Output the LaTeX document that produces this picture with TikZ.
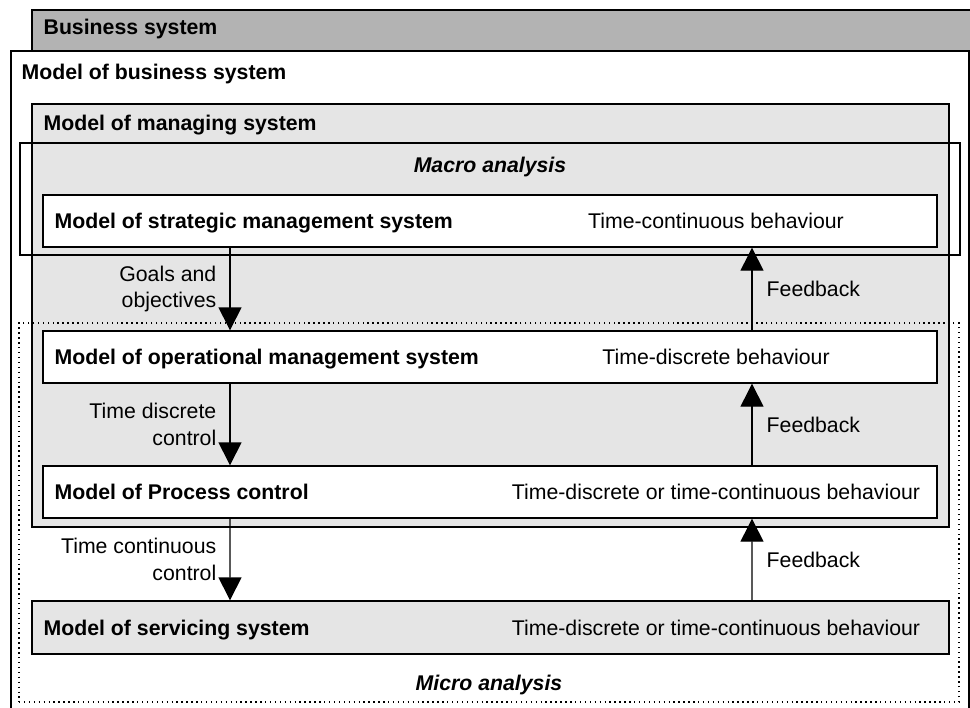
\documentclass[tikz,border=0pt]{standalone}
\usepackage{fontspec}
\setmainfont{Liberation Sans}
\usepackage{xcolor}
\definecolor{gray-mid}{RGB}{179,179,179}
\definecolor{gray-light}{RGB}{229,229,229}
\usepackage{tikz}
\usetikzlibrary{positioning,arrows.meta}

\begin{document}
\begin{tikzpicture}[
    every node/.style={inner sep=0pt},
    box/.style={draw=black, line width=0.8pt, minimum width=17.88cm, minimum height=1.04cm},
    title/.style={font=\bfseries, anchor=base west},
    flow/.style={line width=0.8pt, -{Triangle[length=0.46cm, width=0.46cm]}},
    note/.style={align=right, anchor=east}
]
\fontsize{12.1}{15}\selectfont

% Picture frame
\useasboundingbox (0,0) rectangle (19.40,-14.14);
\clip (0,0) rectangle (19.40,-14.14);

% Business system and its model
\node[draw=black, line width=0.8pt, fill=gray-mid, minimum width=19.36cm, minimum height=14.60cm] (bizsys) at (10.32,-7.50) {};
\node[title] at ([xshift=0.24cm, yshift=-0.50cm]bizsys.north west) {Business system};

\node[draw=black, line width=0.8pt, fill=white, minimum width=19.16cm, minimum height=13.78cm] (bizmodel) at (9.80,-7.91) {};
\node[title] at ([xshift=0.22cm, yshift=-0.58cm]bizmodel.north west) {Model of business system};

% Managing system
\node[draw=black, line width=0.8pt, fill=gray-light, minimum width=18.34cm, minimum height=8.46cm] (managing) at (9.81,-6.31) {};
\node[title] at ([xshift=0.24cm, yshift=-0.55cm]managing.north west) {Model of managing system};

% Macro analysis frame
\node[draw=black, line width=0.8pt, minimum width=18.80cm, minimum height=2.24cm] (macro) at (9.80,-3.98) {};
\node[font=\bfseries\itshape, anchor=base] at ([yshift=-0.60cm]macro.north) {Macro analysis};

% Strategic level
\node[box, fill=white] (strategic) at (9.80,-4.42) {};
\node[title] at ([xshift=0.24cm, yshift=-0.15cm]strategic.west) {Model of strategic management system};
\node[anchor=base] at ([xshift=4.52cm, yshift=-0.15cm]strategic.center) {Time-continuous behaviour};

% Micro analysis frame
\node[draw=black, line width=0.8pt, dotted, minimum width=18.80cm, minimum height=7.58cm] (micro) at (9.78,-10.25) {};
\node[font=\bfseries\itshape, anchor=base] at ([yshift=0.25cm]micro.south) {Micro analysis};

% Operational level
\node[box, fill=white] (operational) at (9.80,-7.14) {};
\node[title] at ([xshift=0.24cm, yshift=-0.15cm]operational.west) {Model of operational management system};
\node[anchor=base] at ([xshift=4.52cm, yshift=-0.15cm]operational.center) {Time-discrete behaviour};

% Process control
\node[box, fill=white] (process) at (9.80,-9.84) {};
\node[title] at ([xshift=0.24cm, yshift=-0.15cm]process.west) {Model of Process control};
\node[anchor=base] at ([xshift=4.52cm, yshift=-0.15cm]process.center) {Time-discrete or time-continuous behaviour};

% Servicing system
\node[box, fill=gray-light, minimum width=18.34cm, minimum height=1.06cm] (servicing) at (9.81,-12.55) {};
\node[title] at ([xshift=0.24cm, yshift=-0.15cm]servicing.west) {Model of servicing system};
\node[anchor=base] at ([xshift=4.51cm, yshift=-0.15cm]servicing.center) {Time-discrete or time-continuous behaviour};

% Control down
\draw[flow] ([xshift=-5.2cm]strategic.south) -- node[note, left=0.26cm] {Goals and\\objectives} ([xshift=-5.2cm]operational.north);
\draw[flow] ([xshift=-5.2cm]operational.south) -- node[note, left=0.26cm] {Time discrete\\control} ([xshift=-5.2cm]process.north);
\draw[flow] ([xshift=-5.2cm]process.south) -- node[note, left=0.26cm] {Time continuous\\control} ([xshift=-5.21cm]servicing.north);

% Feedback up
\draw[flow] ([xshift=5.24cm]operational.north) -- node[right=0.28cm] {Feedback} ([xshift=5.24cm]strategic.south);
\draw[flow] ([xshift=5.24cm]process.north) -- node[right=0.28cm] {Feedback} ([xshift=5.24cm]operational.south);
\draw[flow] ([xshift=5.23cm]servicing.north) -- node[right=0.28cm] {Feedback} ([xshift=5.24cm]process.south);

\end{tikzpicture}
\end{document}
